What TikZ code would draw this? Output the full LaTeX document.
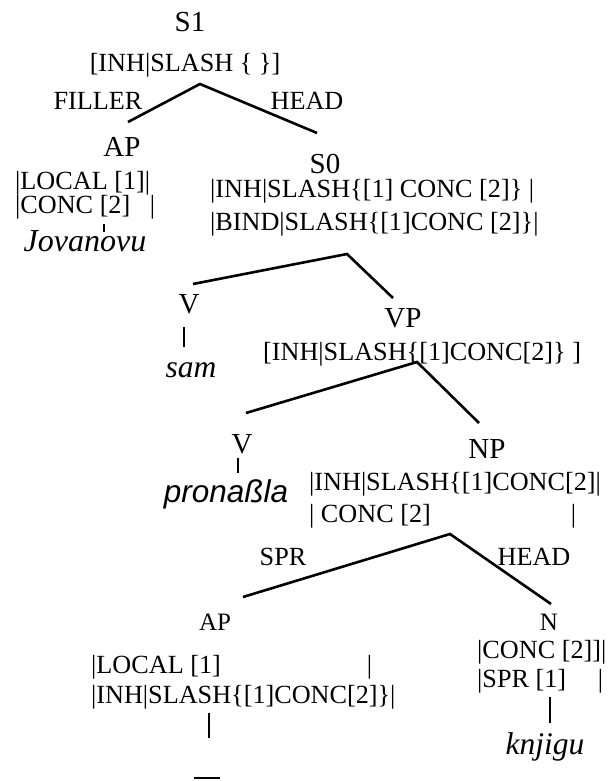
\documentclass[tikz,border=0pt]{standalone}
\usepackage{fontspec}
\setmainfont{Liberation Serif}
\newfontfamily\arialf{Liberation Sans}
\begin{document}
\begin{tikzpicture}[x=1pt,y=-1pt,
  lab/.style={inner sep=0pt,anchor=base,font=\fontsize{29}{32}\selectfont},
  slab/.style={inner sep=0pt,anchor=base,font=\fontsize{25}{28}\selectfont},
  feat/.style={inner sep=0pt,anchor=base west,font=\fontsize{26.2}{30}\selectfont},
  featc/.style={inner sep=0pt,anchor=base,font=\fontsize{26.2}{30}\selectfont},
  word/.style={inner sep=0pt,anchor=base,font=\fontsize{31.5}{34}\selectfont\itshape},
  branch/.style={line width=2.6pt},
  tick/.style={line width=2.6pt}]
\useasboundingbox (0,0) rectangle (608,781);
% S1
\node[lab] (s1) at (190,32) {S1};
\node[featc] (s1f) at (185,72) {[INH|SLASH \{ \}]};
\node[featc] (filler) at (98,110) {FILLER};
\node[featc] (head1) at (307,110) {HEAD};
\coordinate (b1) at (200,84);
\coordinate (b1l) at (128,122);
\coordinate (b1r) at (317,133);
\draw[branch] (b1l) -- (b1) -- (b1r);
% AP (filler)
\node[lab] (ap1) at (122,157) {AP};
\node[feat] (ap1a) at (15,189) {|LOCAL [1]|};
\node[feat] (ap1b) at (15,213) {\makebox[140pt][l]{|CONC [2]\hfill|}};
\coordinate (t1a) at (104,224);
\coordinate (t1b) at (104,232);
\draw[line width=2pt] (t1a) -- (t1b);
\node[word] (jov) at (85,251) {\fontsize{32}{34}\selectfont Jovanovu};
% S0
\node[lab] (s0) at (325,173) {S0};
\node[feat] (s0a) at (210,197) {|INH|SLASH\{[1] CONC [2]\} |};
\node[feat] (s0b) at (210,230) {|BIND|SLASH\{[1]CONC [2]\}|};
\coordinate (b2) at (347,254);
\coordinate (b2l) at (193,284);
\coordinate (b2r) at (393,298);
\draw[branch] (b2l) -- (b2) -- (b2r);
% V sam
\node[lab] (v1) at (189,313) {V};
\coordinate (t2a) at (184,327);
\coordinate (t2b) at (184,347);
\draw[tick] (t2a) -- (t2b);
\node[word] (sam) at (191,377) {sam};
% VP
\node[lab] (vp) at (403,327) {VP};
\node[feat] (vpf) at (263,360) {[INH|SLASH\{[1]CONC[2]\} ]};
\coordinate (b3) at (417,362);
\coordinate (b3l) at (246,413);
\coordinate (b3r) at (479,423);
\draw[branch] (b3l) -- (b3) -- (b3r);
% V pronasla
\node[lab] (v2) at (242,453) {V};
\coordinate (t3a) at (238,458);
\coordinate (t3b) at (238,473);
\draw[tick] (t3a) -- (t3b);
\node[inner sep=0pt,anchor=base] (pron) at (226,502) {\arialf\itshape\fontsize{31.5}{34}\selectfont pronaßla};
% NP
\node[lab] (np) at (487,458) {NP};
\node[feat] (npa) at (309,490) {|INH|SLASH\{[1]CONC[2]|};
\node[feat] (npb) at (309,522) {\makebox[267pt][l]{| CONC [2]\hfill|}};
\coordinate (b4) at (450,534);
\coordinate (b4l) at (243,597);
\coordinate (b4r) at (551,604);
\draw[branch] (b4l) -- (b4) -- (b4r);
\node[featc] (spr) at (283,565) {SPR};
\node[featc] (head2) at (534,565) {HEAD};
% AP (spr)
\node[slab] (ap2) at (215,630) {AP};
\node[feat] (ap2a) at (91,673) {\makebox[281pt][l]{|LOCAL [1]\hfill|}};
\node[feat] (ap2b) at (91,703) {|INH|SLASH\{[1]CONC[2]\}|};
\coordinate (t4a) at (209,713);
\coordinate (t4b) at (209,738);
\draw[tick] (t4a) -- (t4b);
\coordinate (g1) at (194,778);
\coordinate (g2) at (220,778);
\draw[line width=1.2pt] (g1) -- (g2);
% N
\node[slab] (n) at (549,630) {N};
\node[feat] (na) at (477,658) {|CONC [2]]|};
\node[feat] (nb) at (477,687) {\makebox[126pt][l]{|SPR [1]\hfill|}};
\coordinate (t5a) at (550,697);
\coordinate (t5b) at (550,723);
\draw[tick] (t5a) -- (t5b);
\node[word] (knj) at (545,754) {knjigu};
\end{tikzpicture}
\end{document}
